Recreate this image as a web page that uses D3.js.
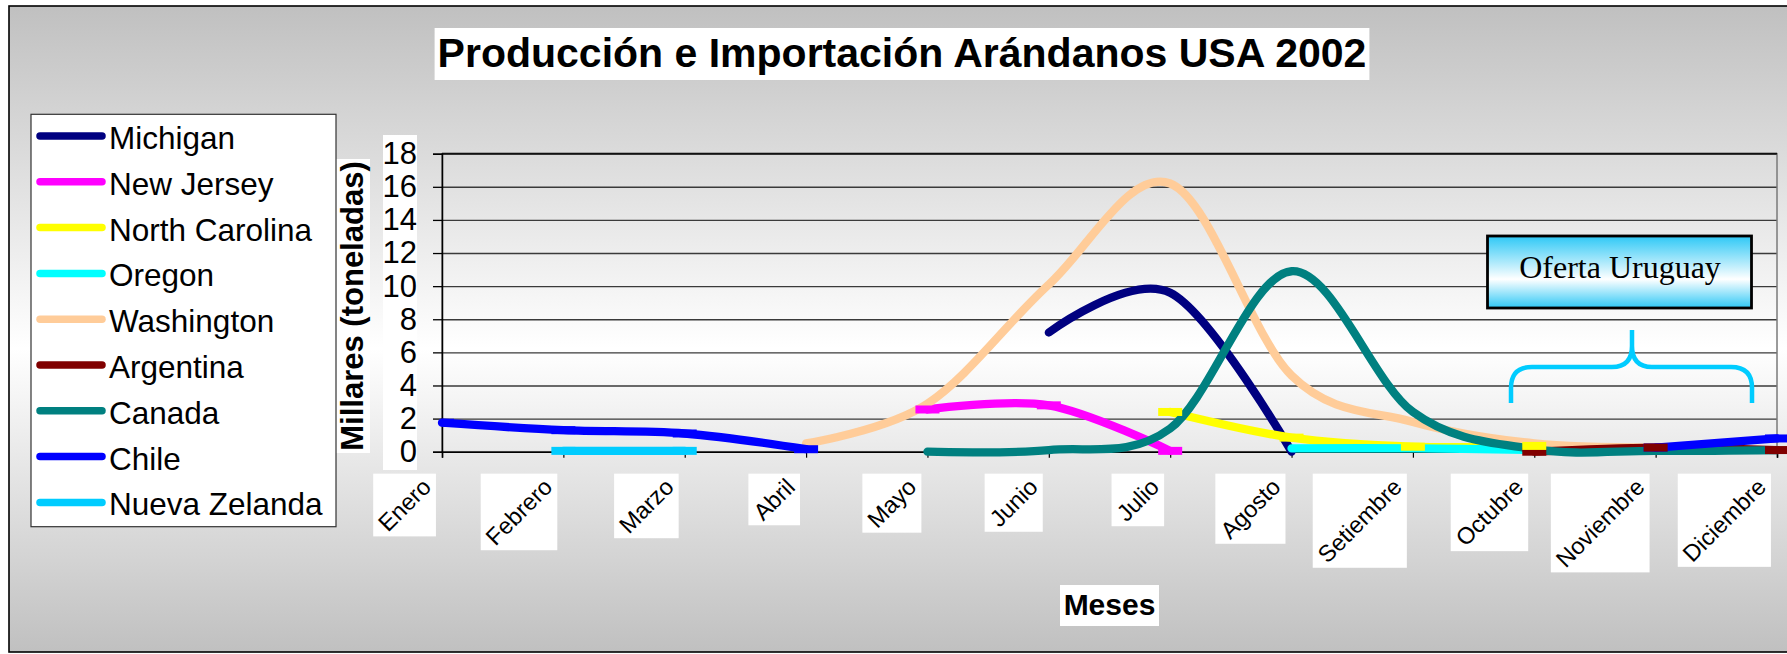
<!DOCTYPE html>
<html><head><meta charset="utf-8">
<script src="https://cdn.jsdelivr.net/npm/d3@7"></script>
<style>
html,body{margin:0;padding:0;background:#fff;}
svg{display:block;}
</style></head>
<body>
<svg id="chart" width="1787" height="654" font-family="'Liberation Sans',Arial,sans-serif"></svg>
<script>
// ---- data ----
const months = ["Enero","Febrero","Marzo","Abril","Mayo","Junio","Julio","Agosto","Setiembre","Octubre","Noviembre","Diciembre"];
const yTicks = [0,2,4,6,8,10,12,14,16,18];
const seriesNames = ["Michigan","New Jersey","North Carolina","Oregon","Washington","Argentina","Canada","Chile","Nueva Zelanda"];
const michigan      = [null,null,null,null,null,7.2,9.6,0,null,null,null,null];
const newJersey     = [null,null,null,null,2.55,2.8,0.05,null,null,null,null,null];
const northCarolina = [null,null,null,null,null,null,2.4,0.85,0.3,0.35,null,null];
const oregon        = [null,null,null,null,null,null,null,0.2,0.2,0.1,null,null];
const washington    = [null,null,null,0.5,2.9,10.1,16.2,4.6,1.8,0.5,0.25,null];
const argentina     = [null,null,null,null,null,null,null,null,null,0,0.25,0.1];
const canada        = [null,null,null,null,0,0.1,1.4,10.9,2.4,0.15,0.05,0.1];
const chile         = [1.75,1.3,1.1,0.15,null,null,null,null,null,null,0.25,0.8];
const nuevaZelanda  = [null,0.05,0.05,null,null,null,null,null,null,null,null,null];
const seriesValues = [michigan,newJersey,northCarolina,oregon,washington,argentina,canada,chile,nuevaZelanda];
const seriesColors = ["#000080","#ff00ff","#ffff00","#00ffff","#ffcc99","#800000","#008080","#0000ff","#00ccff"];
const seriesDash   = [false,true,true,false,false,true,false,true,true];
const titleText = "Producción e Importación Arándanos USA 2002";
const yTitle = "Millares (toneladas)";
const xTitle = "Meses";
const noteText = "Oferta Uruguay";

// ---- layout ----
const W = 1787, H = 654;
const svg = d3.select("#chart");
const defs = svg.append("defs");
const plot = {left:442, right:1777, top:153.7, bottom:451.7};

const bg = defs.append("linearGradient").attr("id","bgGrad").attr("x1",0).attr("y1",0).attr("x2",0).attr("y2",1);
bg.append("stop").attr("offset","0").attr("stop-color","#c0c0c0");
bg.append("stop").attr("offset","0.53").attr("stop-color","#ffffff");
bg.append("stop").attr("offset","1").attr("stop-color","#c0c0c0");

const ng = defs.append("linearGradient").attr("id","noteGrad").attr("x1",0).attr("y1",0).attr("x2",0).attr("y2",1);
ng.append("stop").attr("offset","0").attr("stop-color","#2ec8f6");
ng.append("stop").attr("offset","0.6").attr("stop-color","#ffffff");
ng.append("stop").attr("offset","1").attr("stop-color","#2ec8f6");

defs.append("clipPath").attr("id","mclip").append("rect")
  .attr("x",plot.left).attr("y",0).attr("width",W-plot.left).attr("height",H);

svg.append("rect").attr("x",9).attr("y",6).attr("width",1800).attr("height",646)
  .attr("fill","url(#bgGrad)").attr("stroke","#000").attr("stroke-width",1.6);

const x = d3.scalePoint().domain(months).range([plot.left, plot.right]);
const y = d3.scaleLinear().domain([0,18]).range([plot.bottom, plot.top]);

// title
const titleBox = svg.append("rect").attr("fill","#fff");
const tt = svg.append("text").attr("x",902).attr("y",67).attr("text-anchor","middle")
  .attr("font-size",41).attr("font-weight","bold").attr("fill","#000").text(titleText);
const tb = tt.node().getBBox();
titleBox.attr("x",tb.x-3).attr("y",28).attr("width",tb.width+6).attr("height",52);

// gridlines
svg.append("g").attr("transform",`translate(${plot.left},0)`)
  .call(d3.axisLeft(y).tickValues(yTicks).tickSize(-(plot.right-plot.left)).tickFormat(""))
  .call(g=>g.select(".domain").remove())
  .call(g=>g.selectAll("line").attr("stroke","#3a3a3a").attr("stroke-width",1.4));

svg.append("rect").attr("x",plot.left).attr("y",plot.top).attr("width",plot.right-plot.left)
  .attr("height",plot.bottom-plot.top).attr("fill","none").attr("stroke","#7a7a7a").attr("stroke-width",1.5);
svg.append("line").attr("x1",plot.left).attr("x2",plot.right).attr("y1",plot.top).attr("y2",plot.top)
  .attr("stroke","#111").attr("stroke-width",1.8);

// y-axis label background
svg.append("rect").attr("x",383).attr("y",135).attr("width",34).attr("height",335).attr("fill","#fff");

// y axis
const yAx = svg.append("g").attr("transform",`translate(${plot.left},0)`)
  .call(d3.axisLeft(y).tickValues(yTicks).tickSize(9).tickPadding(16));
yAx.attr("font-family",null);
yAx.select(".domain").attr("stroke","#000").attr("stroke-width",1.5);
yAx.selectAll("line").attr("stroke","#000").attr("stroke-width",1.3);
yAx.selectAll("text").attr("font-size",31).attr("fill","#000")
  .style("font-family","'Liberation Sans',Arial,sans-serif");

// x axis
const xAx = svg.append("g").attr("transform",`translate(0,${plot.bottom})`)
  .call(d3.axisBottom(x).tickSize(6).tickFormat(""));
xAx.select(".domain").attr("stroke","#000").attr("stroke-width",1.6);
xAx.selectAll("line").attr("stroke","#000").attr("stroke-width",1.2);

// x tick labels rotated with white boxes
const svgRect = document.getElementById("chart").getBoundingClientRect();
const xl = svg.append("g");
months.forEach(m=>{
  const g = xl.append("g");
  const box = g.append("rect").attr("fill","#fff");
  const t = g.append("text").attr("transform",`translate(${x(m)-9.6},488.5) rotate(-45)`)
    .attr("text-anchor","end").attr("font-size",23.5).attr("fill","#000").text(m);
  const r = t.node().getBoundingClientRect();
  box.attr("x",r.left-svgRect.left).attr("y",r.top-svgRect.top)
    .attr("width",r.width).attr("height",r.height);
});

// series lines
const lineGen = d3.line()
  .defined(d=>d.v!=null)
  .x(d=>x(d.m)).y(d=>y(d.v))
  .curve(d3.curveCardinal.tension(0));
const lg = svg.append("g");
seriesValues.forEach((vals,i)=>{
  const pts = months.map((m,j)=>({m:m,v:vals[j]}));
  lg.append("path").attr("d",lineGen(pts)).attr("fill","none")
    .attr("stroke",seriesColors[i]).attr("stroke-width",8.3)
    .attr("stroke-linecap","round").attr("stroke-linejoin","round");
});
// dash markers (drawn after lines, reverse series order)
const mg = svg.append("g").attr("clip-path","url(#mclip)");
for(let i=seriesValues.length-1;i>=0;i--){
  if(!seriesDash[i]) continue;
  seriesValues[i].forEach((v,j)=>{
    if(v==null) return;
    mg.append("rect").attr("x",x(months[j])-12).attr("y",y(v)-4)
      .attr("width",24).attr("height",8).attr("fill",seriesColors[i]);
  });
}

// y title
svg.append("rect").attr("x",336).attr("y",159).attr("width",34).attr("height",294).attr("fill","#fff");
svg.append("text").attr("transform","translate(363,306) rotate(-90)").attr("text-anchor","middle")
  .attr("font-size",31).attr("font-weight","bold").attr("fill","#000").text(yTitle);

// x title
svg.append("rect").attr("x",1060).attr("y",585).attr("width",99).attr("height",41).attr("fill","#fff");
svg.append("text").attr("x",(plot.left+plot.right)/2).attr("y",615).attr("text-anchor","middle")
  .attr("font-size",30).attr("font-weight","bold").attr("fill","#000").text(xTitle);

// legend
const leg = svg.append("g");
leg.append("rect").attr("x",31).attr("y",114.3).attr("width",305).attr("height",412.4)
  .attr("fill","#fff").attr("stroke","#333").attr("stroke-width",1.2);
seriesNames.forEach((n,i)=>{
  const ly = 136 + i*45.8;
  leg.append("line").attr("x1",40).attr("x2",102).attr("y1",ly).attr("y2",ly)
    .attr("stroke",seriesColors[i]).attr("stroke-width",7.5).attr("stroke-linecap","round");
  leg.append("text").attr("x",109).attr("y",ly+13).attr("font-size",31.5).attr("fill","#000").text(n);
});

// note box
svg.append("rect").attr("x",1487.5).attr("y",236).attr("width",264).attr("height",72)
  .attr("fill","url(#noteGrad)").attr("stroke","#000").attr("stroke-width",2.8);
svg.append("text").attr("x",1620).attr("y",278).attr("text-anchor","middle")
  .style("font-family","'Liberation Serif','Times New Roman',serif").attr("font-size",32)
  .attr("fill","#000").text(noteText);

// brace
svg.append("path")
  .attr("d","M1511,403 V388 Q1511,367 1532,367 H1612 Q1632,367 1632,346 V330 M1632,346 Q1632,367 1652,367 H1731 Q1752,367 1752,388 V403")
  .attr("fill","none").attr("stroke","#00ccff").attr("stroke-width",4.5);
</script>
</body></html>
